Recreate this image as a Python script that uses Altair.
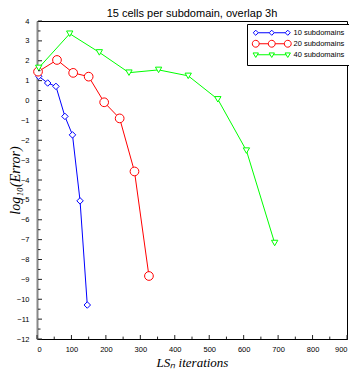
import altair as alt
import pandas as pd

# ---- data ----
series_names = ["10 subdomains", "20 subdomains", "40 subdomains"]
colors = ["#0000ff", "#ff0000", "#00ff00"]
marker_shapes = ["diamond", "circle", "triangle-down"]
marker_sizes = [42, 76, 40]

x10 = [5, 31, 55, 81, 103, 125, 146]
y10 = [1.22, 0.88, 0.71, -0.80, -1.73, -5.05, -10.29]
x20 = [3, 58, 105, 150, 195, 240, 283, 325]
y20 = [1.45, 2.04, 1.39, 1.20, -0.09, -0.90, -3.57, -8.83]
x40 = [5, 95, 181, 267, 353, 439, 525, 608, 690]
y40 = [1.64, 3.36, 2.42, 1.40, 1.54, 1.24, 0.06, -2.52, -7.17]

x_ticks = list(range(0, 901, 100))
x_minor = list(range(50, 900, 100))
y_ticks = list(range(-12, 5))
y_minor = [v + 0.5 for v in range(-12, 4)]

title_text = "15 cells per subdomain, overlap 3h"
x_title = "LSₙ iterations"
y_title = "log₁₀(Error)"

# ---- tables ----
rows = []
for name, xs, ys in zip(series_names, [x10, x20, x40], [y10, y20, y40]):
    for xv, yv in zip(xs, ys):
        rows.append({"series": name, "x": xv, "y": yv})
df = pd.DataFrame(rows)

# legend symbols: a line with three markers (custom paths; unit = sqrt(size)/2 px)
c = [0, 5.33, 10.67]


def seg(h):
    return f"M{c[0]+h:.2f},0L{c[1]-h:.2f},0M{c[1]+h:.2f},0L{c[2]-h:.2f},0"


d = 0.85
diamond_path = seg(d) + "".join(
    f"M{x-d:.2f},0L{x:.2f},{-d:.2f}L{x+d:.2f},0L{x:.2f},{d:.2f}Z" for x in c)
r = 1.15
circle_path = seg(r) + "".join(
    f"M{x-r:.2f},0A{r},{r},0,1,0,{x+r:.2f},0A{r},{r},0,1,0,{x-r:.2f},0Z" for x in c)
tri_path = seg(0.54) + "".join(
    f"M{x-0.9:.2f},-0.6L{x+0.9:.2f},-0.6L{x:.2f},0.9Z" for x in c)
legend_paths = [diamond_path, circle_path, tri_path]

xscale = alt.Scale(domain=[0, 900], nice=False, zero=False)
yscale = alt.Scale(domain=[-12, 4], nice=False, zero=False)

x_axis = alt.Axis(
    values=x_ticks, title=x_title, ticks=False, grid=False, labelFlush=True,
    labelFontSize=7.5, labelFont="Liberation Sans", labelColor="black",
    labelPadding=6, domainColor="black", domainWidth=1,
    titleFont="Liberation Serif", titleFontStyle="italic", titleFontWeight="normal",
    titleFontSize=13, titleColor="black", titlePadding=4)
y_axis = alt.Axis(
    values=y_ticks, title=y_title, ticks=False, grid=False,
    labelFontSize=7.5, labelFont="Liberation Sans", labelColor="black",
    labelPadding=8, domainColor="#888888", domainWidth=2,
    titleFont="Liberation Serif", titleFontStyle="italic", titleFontWeight="normal",
    titleFontSize=14, titleColor="black", titlePadding=-6)

X = alt.X("x:Q", scale=xscale, axis=x_axis)
Y = alt.Y("y:Q", scale=yscale, axis=y_axis)

# one line layer and one marker layer per series (fixed colours, no scale)
line_layers = []
point_layers = []
for name, col, shp, sz in zip(series_names, colors, marker_shapes, marker_sizes):
    sub = alt.Chart(df).transform_filter(alt.datum.series == name)
    line_layers.append(sub.mark_line(strokeWidth=1, color=col).encode(x=X, y=Y))
    point_layers.append(sub.mark_point(
        shape=shp, size=sz, filled=True, fill="white", stroke=col,
        strokeWidth=1, opacity=1).encode(x=X, y=Y))

leg = alt.Legend(title=None, orient="none", legendX=210, legendY=3,
                 strokeColor="black", fillColor="white", padding=5,
                 rowPadding=0, labelFontSize=7.5, labelFont="Liberation Sans",
                 labelColor="black", labelOffset=34, symbolSize=36,
                 symbolStrokeWidth=1, symbolOpacity=1)

legend_layer = alt.Chart(df).mark_point(
    filled=False, size=36, strokeWidth=1, opacity=0).encode(
    x=X, y=Y,
    color=alt.Color("series:N", scale=alt.Scale(domain=series_names, range=colors),
                    legend=leg),
    shape=alt.Shape("series:N", scale=alt.Scale(domain=series_names, range=legend_paths),
                    legend=leg))

# inside tick marks (left and bottom)
ymaj = alt.Chart(pd.DataFrame({"v": y_ticks})).mark_rule(color="#222", strokeWidth=1).encode(
    y=alt.Y("v:Q", scale=yscale, axis=y_axis), x=alt.value(1), x2=alt.value(5))
ymin = alt.Chart(pd.DataFrame({"v": y_minor})).mark_rule(color="#222", strokeWidth=1).encode(
    y=alt.Y("v:Q", scale=yscale, axis=y_axis), x=alt.value(1), x2=alt.value(3.5))
xmaj = alt.Chart(pd.DataFrame({"v": x_ticks})).mark_rule(color="#222", strokeWidth=1).encode(
    x=alt.X("v:Q", scale=xscale, axis=x_axis),
    y=alt.YDatum(-12, scale=yscale, axis=y_axis), y2=alt.Y2Datum(-11.8))
xmin = alt.Chart(pd.DataFrame({"v": x_minor})).mark_rule(color="#222", strokeWidth=1).encode(
    x=alt.X("v:Q", scale=xscale, axis=x_axis),
    y=alt.YDatum(-12, scale=yscale, axis=y_axis), y2=alt.Y2Datum(-11.88))

chart = alt.layer(*line_layers, *point_layers, legend_layer,
                  ymaj, ymin, xmaj, xmin).properties(
    width=341, height=362,
    title=alt.TitleParams(title_text, fontSize=11, font="Liberation Sans",
                          fontWeight="normal", color="black", anchor="middle",
                          offset=-2),
    padding={"left": 0, "top": 0, "right": 1, "bottom": 0},
    autosize=alt.AutoSizeParams(type="fit", contains="padding"),
).configure_view(stroke="black", strokeWidth=1)

chart.save("out.html", embed_options={"renderer": "svg", "actions": False})
